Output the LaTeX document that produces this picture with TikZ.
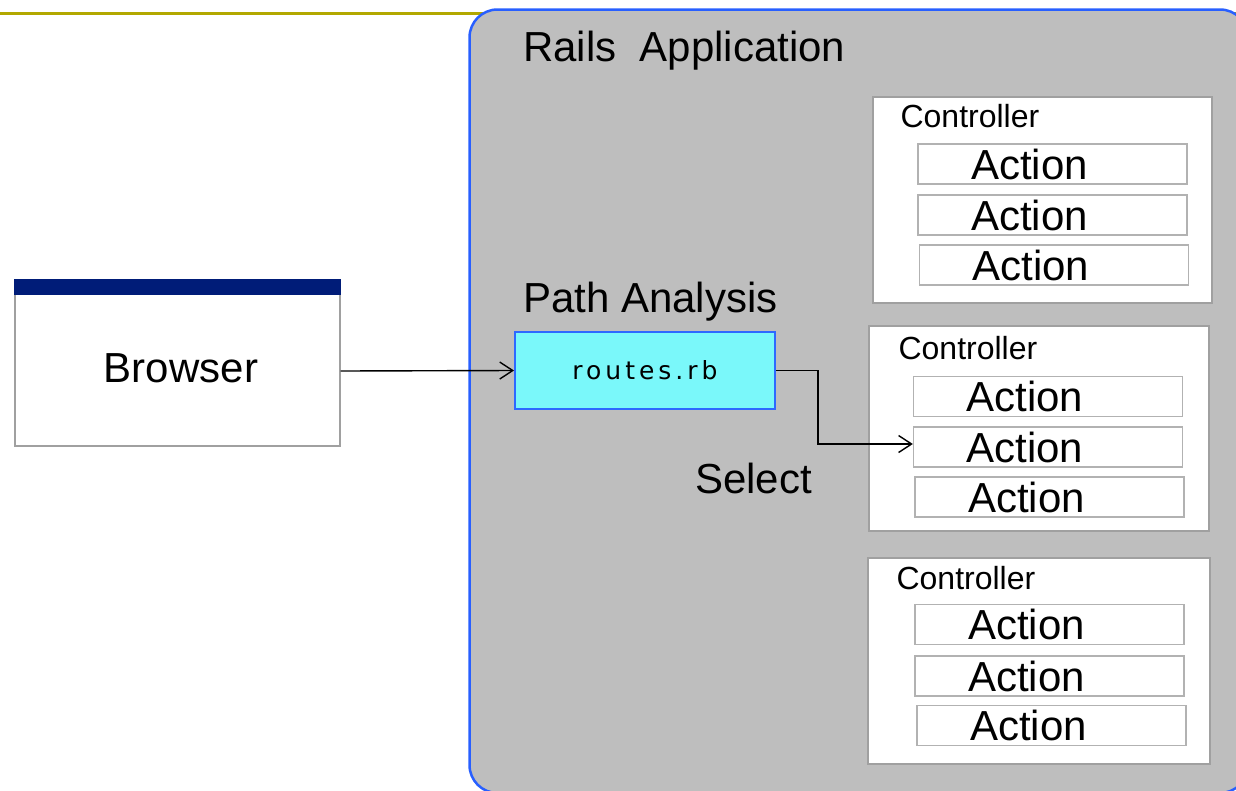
\documentclass[tikz,border=0pt]{standalone}
\usepackage{fontspec}
\setmainfont{Liberation Sans}
\newfontfamily\routesfont[LetterSpace=16]{DejaVu Sans}
\usetikzlibrary{arrows.meta}

\definecolor{rulegold}{RGB}{178,168,0}
\definecolor{appgray}{RGB}{190,190,190}
\definecolor{appblue}{RGB}{40,95,255}
\definecolor{routecyan}{RGB}{122,248,250}
\definecolor{routeblue}{RGB}{45,105,255}
\definecolor{titlenavy}{RGB}{0,28,120}
\definecolor{framegray}{RGB}{160,160,160}
\definecolor{slotgray}{RGB}{178,178,178}

\tikzset{
  bigtext/.style={font=\fontsize{42}{46}\selectfont, inner sep=0pt},
  ctrltext/.style={font=\fontsize{32}{36}\selectfont, inner sep=0pt, anchor=base west},
  browserbox/.style={draw=framegray, line width=1.2pt, fill=white,
    minimum width=325pt, minimum height=166pt, inner sep=0pt},
  routebox/.style={draw=routeblue, line width=2pt, fill=routecyan,
    minimum width=260pt, minimum height=77pt, inner sep=0pt,
    font=\routesfont\fontsize{25}{29}\selectfont},
  ctrlbox/.style={draw=framegray, line width=1.3pt, fill=white,
    minimum height=206pt, inner sep=0pt},
  actionbox/.style={draw=slotgray, line width=1.3pt, fill=white,
    minimum height=40pt, inner xsep=53pt, inner ysep=0pt,
    text width=163pt, align=left, font=\fontsize{42}{46}\selectfont},
  flow/.style={draw=black, line width=1.4pt,
    -{Straight Barb[length=13pt,width=17pt,line width=1.4pt]}}
}

\begin{document}
\begin{tikzpicture}[x=1pt,y=-1pt]
\useasboundingbox (0,0) rectangle (1236,790);

% header rule behind the application panel
\draw[rulegold, line width=3.5pt] (0,13.5) -- (1236,13.5);

% application panel
\draw[fill=appgray, draw=appblue, line width=2.5pt, rounded corners=28pt]
  (469.5,9.5) rectangle (1248,793);
\node[bigtext, anchor=base west] (apptitle) at (523,61) {Rails\ \ Application};

% browser window
\node[browserbox] (browser) at (177.5,363) {};
\fill[titlenavy] (browser.north west) rectangle ([yshift=-16pt]browser.north east);
\node[bigtext] (browsertext) at (181,368) {Browser};

% routing
\node[bigtext, anchor=base west] (pathtitle) at (523,312) {Path Analysis};
\node[routebox] (routes) at (645,370.5) {routes.rb};
\node[bigtext, anchor=base west] (select) at (695,493) {Select};

% controller 1
\node[ctrlbox, minimum width=339pt] (c1) at (1042.5,200) {};
\node[ctrltext] (c1t) at ([shift={(28,31)}]c1.north west) {Controller};
\node[actionbox] (c1a1) at (1052.5,164) {Action};
\node[actionbox] (c1a2) at (1052.5,215) {Action};
\node[actionbox] (c1a3) at (1054,265) {Action};

% controller 2
\node[ctrlbox, minimum width=340pt, minimum height=205pt] (c2) at (1039,428.5) {};
\node[ctrltext] (c2t) at ([shift={(30,34)}]c2.north west) {Controller};
\node[actionbox] (c2a1) at (1048,396.5) {Action};
\node[actionbox] (c2a2) at (1048,447) {Action};
\node[actionbox] (c2a3) at (1049.5,497) {Action};

% controller 3
\node[ctrlbox, minimum width=342pt] (c3) at (1039,661) {};
\node[ctrltext] (c3t) at ([shift={(29,32)}]c3.north west) {Controller};
\node[actionbox] (c3a1) at (1049.5,624.5) {Action};
\node[actionbox] (c3a2) at (1049.5,676) {Action};
\node[actionbox] (c3a3) at (1051.5,725.5) {Action};

% request flow
\draw[flow] ([yshift=-8pt]browser.east) -- (routes.west);
\draw[flow] (routes.east) -- ++(42,0) |- ([yshift=3pt]c2a2.west);
\end{tikzpicture}
\end{document}
